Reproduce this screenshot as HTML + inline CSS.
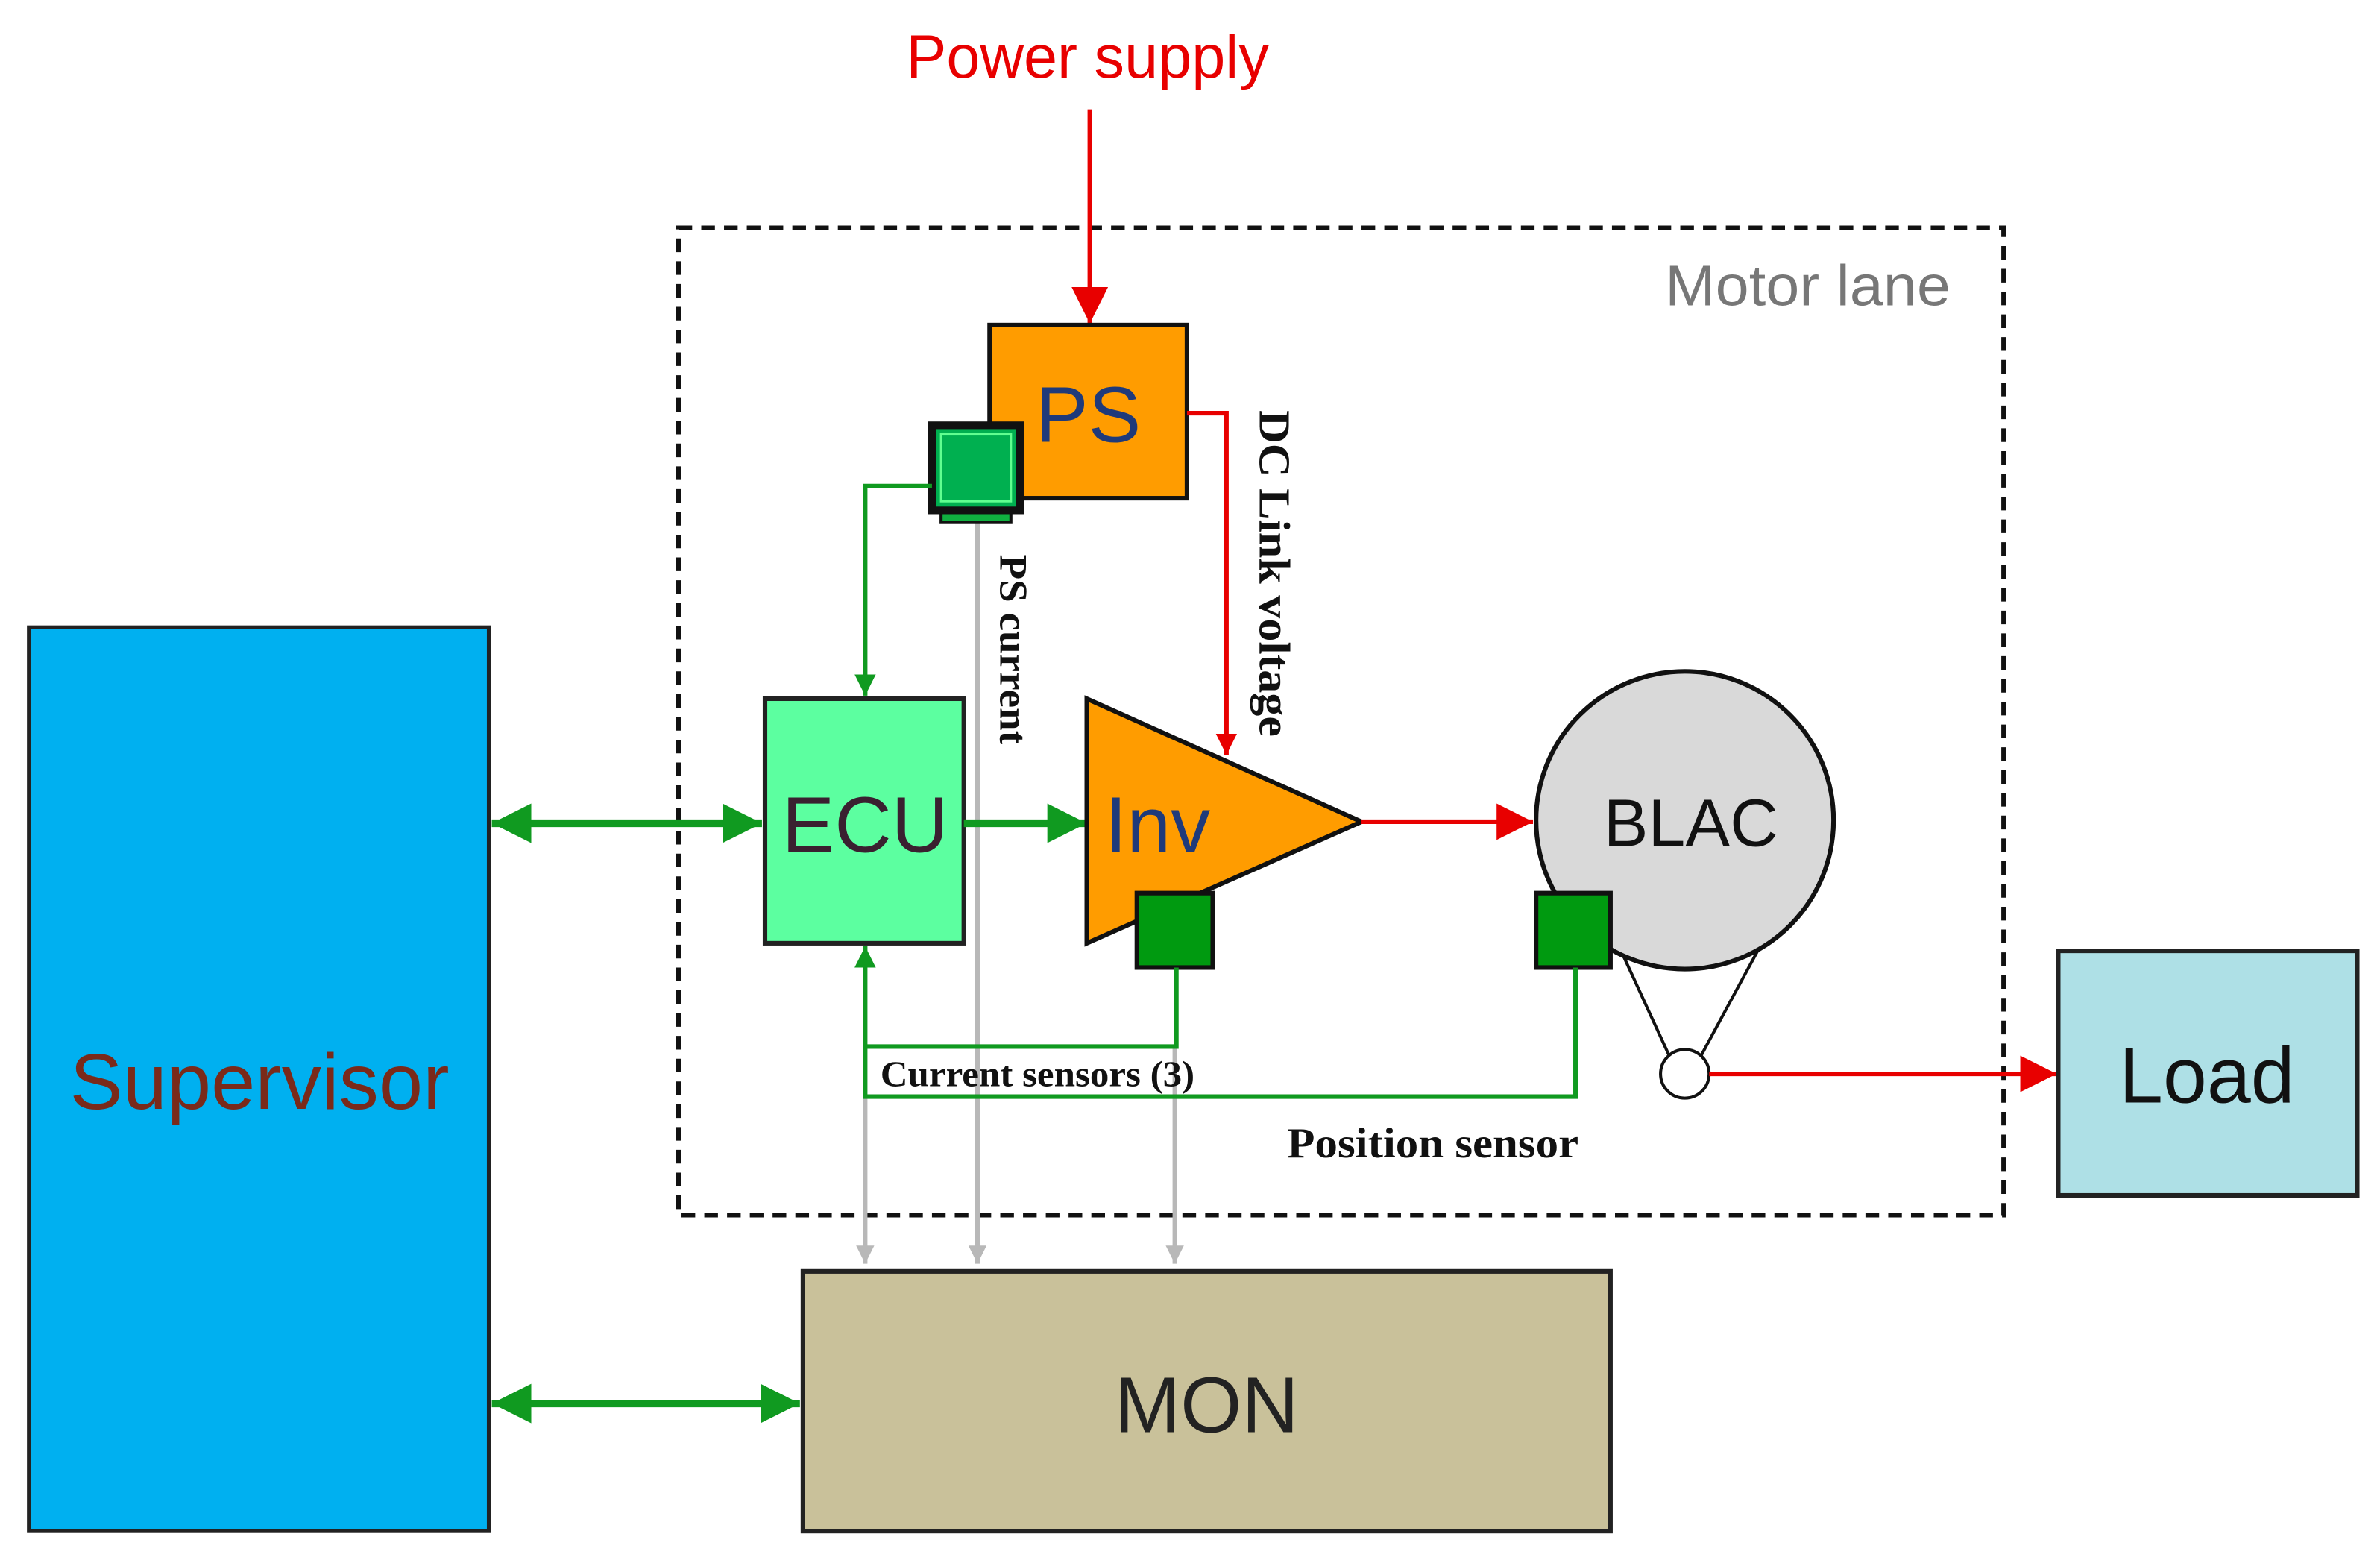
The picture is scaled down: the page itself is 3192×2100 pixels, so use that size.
<!DOCTYPE html>
<html><head><meta charset="utf-8"><style>
html,body{margin:0;padding:0;background:#fff;}
svg{display:block;}
.sans{font-family:"Liberation Sans",sans-serif;}
.serif{font-family:"Liberation Serif",serif;font-weight:bold;}
</style></head><body>
<svg width="3192" height="2100" viewBox="0 0 1568 1031" preserveAspectRatio="none" xmlns="http://www.w3.org/2000/svg">
<defs>
<marker id="arB" viewBox="0 0 10 10" markerWidth="26" markerHeight="24" refX="10" refY="5" orient="auto" markerUnits="userSpaceOnUse"><path d="M0,0 L10,5 L0,10 z" fill="#E80000"/></marker>
<marker id="arS" viewBox="0 0 10 10" markerWidth="14" markerHeight="14" refX="10" refY="5" orient="auto" markerUnits="userSpaceOnUse"><path d="M0,0 L10,5 L0,10 z" fill="#E80000"/></marker>
<marker id="ag" viewBox="0 0 10 10" markerWidth="26" markerHeight="26" refX="10" refY="5" orient="auto-start-reverse" markerUnits="userSpaceOnUse"><path d="M0,0 L10,5 L0,10 z" fill="#109A20"/></marker>
<marker id="agS" viewBox="0 0 10 10" markerWidth="14" markerHeight="14" refX="10" refY="5" orient="auto" markerUnits="userSpaceOnUse"><path d="M0,0 L10,5 L0,10 z" fill="#109A20"/></marker>
<marker id="agr" viewBox="0 0 10 10" markerWidth="12" markerHeight="12" refX="10" refY="5" orient="auto" markerUnits="userSpaceOnUse"><path d="M0,0 L10,5 L0,10 z" fill="#B8B8B8"/></marker>
</defs>

<rect x="447" y="150" width="873" height="650" fill="none" stroke="#111" stroke-width="3" stroke-dasharray="9,6"/>
<text x="1097" y="201" class="sans" font-size="38" fill="#777" textLength="188" lengthAdjust="spacingAndGlyphs">Motor lane</text>

<text x="597" y="51" class="sans" font-size="40" fill="#E80000" textLength="239" lengthAdjust="spacingAndGlyphs">Power supply</text>
<line x1="718" y1="72" x2="718" y2="213" stroke="#E80000" stroke-width="3" marker-end="url(#arB)"/>

<line x1="644" y1="340" x2="644" y2="832" stroke="#B8B8B8" stroke-width="3" marker-end="url(#agr)"/>
<line x1="570" y1="722" x2="570" y2="832" stroke="#B8B8B8" stroke-width="3" marker-end="url(#agr)"/>
<line x1="774" y1="689" x2="774" y2="832" stroke="#B8B8B8" stroke-width="3" marker-end="url(#agr)"/>

<rect x="652" y="214" width="130" height="114" fill="#FF9C00" stroke="#111" stroke-width="3"/>
<text x="717" y="291" text-anchor="middle" class="sans" font-size="52" fill="#1F3A7A">PS</text>
<rect x="620" y="335" width="46" height="9" fill="#10B040" stroke="#111" stroke-width="2"/>
<rect x="614" y="280" width="58" height="56" fill="#00B050" stroke="#111" stroke-width="5"/>
<rect x="620" y="286" width="46" height="44" fill="none" stroke="#60FF90" stroke-width="1.5"/>

<polyline points="782,272 808,272 808,497" fill="none" stroke="#E80000" stroke-width="3" marker-end="url(#arS)"/>
<text transform="translate(830,270) rotate(90)" class="serif" font-size="29" fill="#111" textLength="215" lengthAdjust="spacingAndGlyphs">DC Link  voltage</text>
<text transform="translate(659,365) rotate(90)" class="serif" font-size="26" fill="#111" textLength="125" lengthAdjust="spacingAndGlyphs">PS current</text>

<polyline points="614,320 570,320 570,458" fill="none" stroke="#109A20" stroke-width="3" marker-end="url(#agS)"/>

<rect x="19" y="413" width="303" height="595" fill="#00B0F0" stroke="#222" stroke-width="2.5"/>
<text x="46" y="730" class="sans" font-size="52" fill="#7A2A1A" textLength="250" lengthAdjust="spacingAndGlyphs">Supervisor</text>

<rect x="504" y="460" width="131" height="161" fill="#5CFFA0" stroke="#222" stroke-width="3"/>
<text x="570" y="561" text-anchor="middle" class="sans" font-size="52" fill="#3A2030">ECU</text>

<line x1="324" y1="542" x2="502" y2="542" stroke="#109A20" stroke-width="5" marker-start="url(#ag)" marker-end="url(#ag)"/>
<line x1="635" y1="542" x2="716" y2="542" stroke="#109A20" stroke-width="5" marker-end="url(#ag)"/>

<polygon points="716,460 716,621 897,541" fill="#FF9C00" stroke="#111" stroke-width="3"/>
<text x="728" y="561" class="sans" font-size="52" fill="#1F3A7A">Inv</text>
<line x1="897" y1="541" x2="1010" y2="541" stroke="#E80000" stroke-width="3" marker-end="url(#arB)"/>

<line x1="1068" y1="626" x2="1102" y2="700" stroke="#111" stroke-width="2"/>
<line x1="1158" y1="626" x2="1118" y2="700" stroke="#111" stroke-width="2"/>
<circle cx="1110" cy="540" r="98" fill="#D9D9D9" stroke="#111" stroke-width="3"/>
<text x="1114" y="557" text-anchor="middle" class="sans" font-size="44" fill="#111">BLAC</text>
<circle cx="1110" cy="707" r="16" fill="#fff" stroke="#111" stroke-width="2"/>
<line x1="1126" y1="707" x2="1355" y2="707" stroke="#E80000" stroke-width="3" marker-end="url(#arB)"/>

<rect x="1356" y="626" width="197" height="161" fill="#AEE0E6" stroke="#222" stroke-width="3"/>
<text x="1454" y="726" text-anchor="middle" class="sans" font-size="52" fill="#111">Load</text>

<rect x="749" y="588" width="50" height="49" fill="#009A10" stroke="#111" stroke-width="3"/>
<rect x="1012" y="588" width="49" height="49" fill="#009A10" stroke="#111" stroke-width="3"/>

<polyline points="775,637 775,689 570,689 570,623" fill="none" stroke="#109A20" stroke-width="3" marker-end="url(#agS)"/>
<polyline points="1038,637 1038,722 570,722 570,689" fill="none" stroke="#109A20" stroke-width="3"/>
<text x="580" y="715" class="serif" font-size="24" fill="#111" textLength="207" lengthAdjust="spacingAndGlyphs">Current sensors (3)</text>
<text x="848" y="762" class="serif" font-size="28" fill="#111" textLength="192" lengthAdjust="spacingAndGlyphs">Position sensor</text>

<rect x="529" y="837" width="532" height="171" fill="#C9C19A" stroke="#222" stroke-width="3"/>
<text x="795" y="943" text-anchor="middle" class="sans" font-size="52" fill="#222">MON</text>
<line x1="324" y1="924" x2="527" y2="924" stroke="#109A20" stroke-width="5" marker-start="url(#ag)" marker-end="url(#ag)"/>
</svg>
</body></html>
